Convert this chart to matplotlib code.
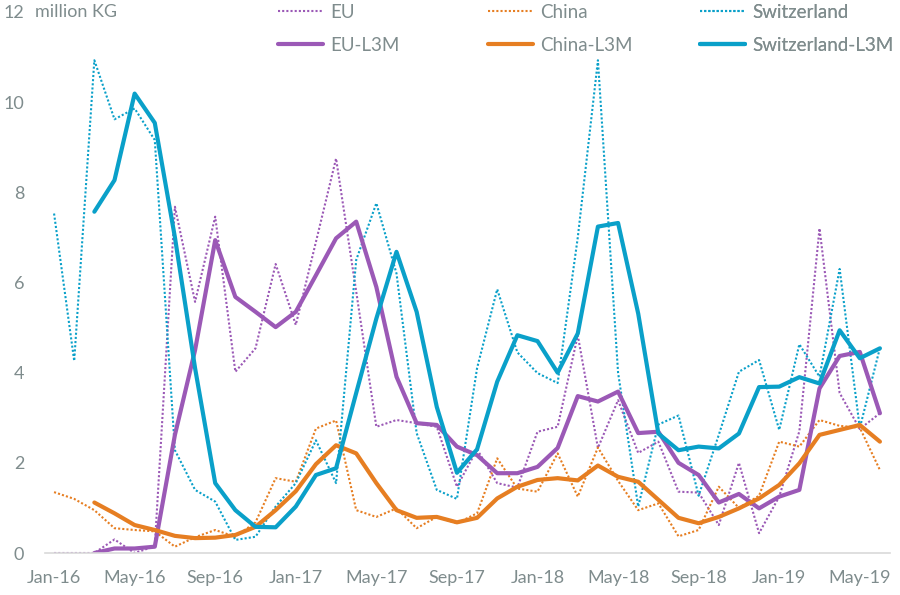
import numpy as np
import matplotlib.pyplot as plt

plt.rcParams['font.family'] = ['Lato', 'DejaVu Sans']

# monthly data, Jan-16 .. Jun-19 (million KG)
months = ['Jan-16', 'Feb-16', 'Mar-16', 'Apr-16', 'May-16', 'Jun-16', 'Jul-16', 'Aug-16',
          'Sep-16', 'Oct-16', 'Nov-16', 'Dec-16', 'Jan-17', 'Feb-17', 'Mar-17', 'Apr-17',
          'May-17', 'Jun-17', 'Jul-17', 'Aug-17', 'Sep-17', 'Oct-17', 'Nov-17', 'Dec-17',
          'Jan-18', 'Feb-18', 'Mar-18', 'Apr-18', 'May-18', 'Jun-18', 'Jul-18', 'Aug-18',
          'Sep-18', 'Oct-18', 'Nov-18', 'Dec-18', 'Jan-19', 'Feb-19', 'Mar-19', 'Apr-19',
          'May-19', 'Jun-19']
nan = np.nan
eu = [0, 0, 0, 0.3, 0, 0.15, 7.68, 5.57, 7.46, 4.02, 4.54, 6.41, 5.06, 6.9, 8.75, 5.8,
      2.8, 2.95, 2.88, 2.8, 1.47, 2.3, 1.55, 1.45, 2.69, 2.8, 4.83, 2.33, 3.39, 2.22,
      2.47, 1.36, 1.34, 0.62, 2.0, 0.44, 1.25, 2.7, 7.2, 3.55, 2.75, 3.1]
china = [1.35, 1.2, 0.95, 0.55, 0.51, 0.48, 0.14, 0.35, 0.51, 0.36, 0.68, 1.66, 1.58,
         2.76, 2.94, 0.95, 0.8, 0.99, 0.55, 0.8, 0.66, 0.88, 2.1, 1.43, 1.36, 2.21, 1.25,
         2.34, 1.6, 0.95, 1.1, 0.37, 0.51, 1.47, 1.0, 1.27, 2.47, 2.36, 2.95, 2.82, 2.78, 1.84]
swiss = [7.53, 4.26, 10.93, 9.62, 9.86, 9.16, 2.28, 1.4, 1.14, 0.29, 0.36, 1.03, 1.55,
         2.5, 1.55, 6.5, 7.76, 6.2, 2.66, 1.4, 1.2, 4.1, 5.85, 4.45, 3.99, 3.77, 7.0,
         10.93, 4.0, 1.03, 2.85, 3.05, 1.27, 2.62, 4.02, 4.28, 2.73, 4.63, 3.91, 6.3, 2.77, 4.55]
eu_l3m = [nan, nan, 0, 0.1, 0.1, 0.14, 2.62, 4.5, 6.94, 5.68, 5.35, 5.01, 5.35, 6.16,
          6.98, 7.35, 5.9, 3.91, 2.88, 2.84, 2.36, 2.17, 1.77, 1.77, 1.91, 2.33, 3.48,
          3.36, 3.58, 2.66, 2.69, 2.0, 1.73, 1.12, 1.31, 0.99, 1.25, 1.4, 3.65, 4.37, 4.46, 3.1]
china_l3m = [nan, nan, 1.12, 0.88, 0.62, 0.51, 0.38, 0.33, 0.34, 0.4, 0.58, 0.95, 1.37,
             1.97, 2.39, 2.21, 1.55, 0.95, 0.78, 0.8, 0.68, 0.78, 1.21, 1.47, 1.62, 1.66,
             1.61, 1.94, 1.69, 1.58, 1.18, 0.78, 0.66, 0.8, 0.99, 1.21, 1.51, 1.99, 2.62,
             2.73, 2.84, 2.47]
swiss_l3m = [nan, nan, 7.57, 8.27, 10.19, 9.54, 7.0, 4.1, 1.55, 0.95, 0.58, 0.57, 1.03,
             1.73, 1.88, 3.55, 5.2, 6.68, 5.35, 3.24, 1.78, 2.3, 3.8, 4.83, 4.7, 4.0, 4.87,
             7.24, 7.32, 5.31, 2.65, 2.28, 2.36, 2.32, 2.65, 3.68, 3.69, 3.9, 3.76, 4.94,
             4.32, 4.54]

purple = '#9b59b6'
orange = '#e67e22'
cyan = '#0aa0c9'
grey = '#7f8c8d'

fig = plt.figure(figsize=(9, 5.95), dpi=100)
ax = fig.add_axes([45/900, 42/595, 845/900, 541/595])

x = np.arange(len(months))
dot = (0, (1, 1))
h1, = ax.plot(x, eu, color=purple, lw=1.5, ls=dot, label='EU')
h2, = ax.plot(x, china, color=orange, lw=1.5, ls=dot, label='China')
h3, = ax.plot(x, swiss, color=cyan, lw=1.5, ls=dot, label='Switzerland')
h4, = ax.plot(x, eu_l3m, color=purple, lw=3.0, label='EU-L3M', solid_capstyle='round')
h5, = ax.plot(x, china_l3m, color=orange, lw=3.0, label='China-L3M', solid_capstyle='round')
h6, = ax.plot(x, swiss_l3m, color=cyan, lw=3.0, label='Switzerland-L3M', solid_capstyle='round')

ax.set_xlim(-0.45, 41.5)
ax.set_ylim(0, 12)
ax.set_xticks(x[::4])
ax.set_xticklabels(months[::4])
ax.set_yticks(range(0, 13, 2))
ax.tick_params(length=0, labelsize=13, labelcolor=grey)
ax.tick_params(axis='y', pad=15)
ax.tick_params(axis='x', pad=12.5)
for s in ['top', 'right', 'left']:
    ax.spines[s].set_visible(False)
ax.spines['bottom'].set_color('#d9d9d9')
ax.spines['bottom'].set_linewidth(1.2)

fig.text(35/900, 1 - 12/595, 'million KG', fontsize=13, color=grey, va='center', ha='left')

# legend: three columns placed like the original
cols = [([h1, h4], 278), ([h2, h5], 488), ([h3, h6], 700)]
for hs, px in cols:
    leg = ax.legend(handles=hs, loc='upper left', bbox_to_anchor=(px/900, 1 - 4/595),
                    bbox_transform=fig.transFigure, frameon=False, fontsize=13.5,
                    handlelength=2.4, handletextpad=0.4, borderpad=0, borderaxespad=0,
                    labelspacing=0.85, labelcolor=grey)
    ax.add_artist(leg)

fig.savefig('out.png', dpi=100)
